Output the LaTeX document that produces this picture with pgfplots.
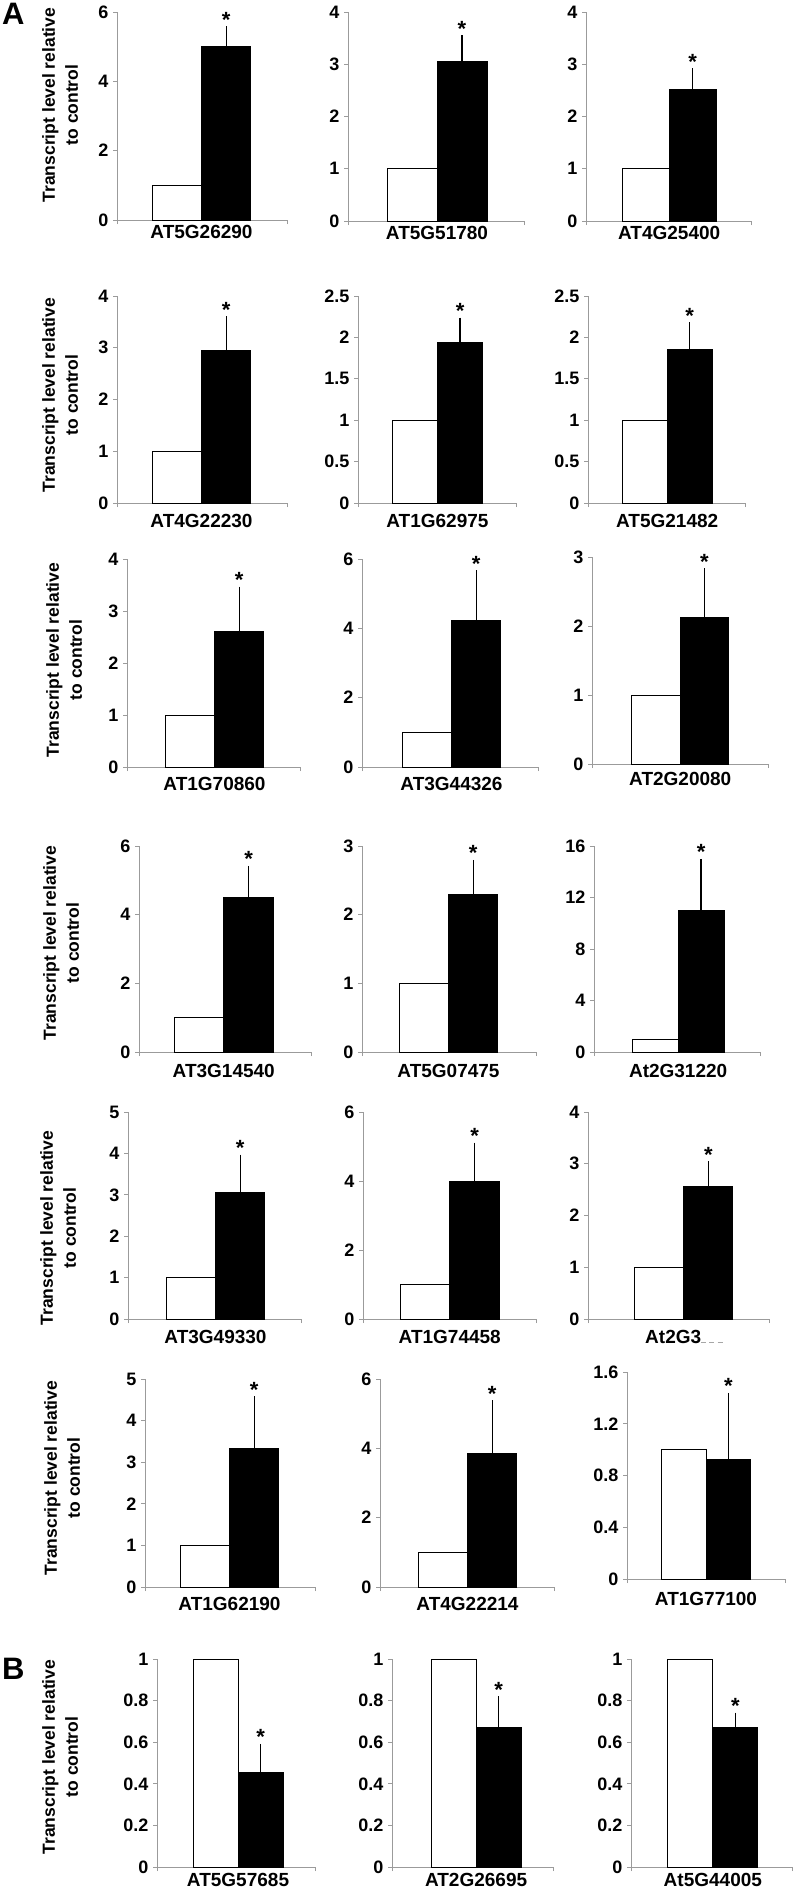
\documentclass[border=0pt]{standalone}
\usepackage{fontspec}
\setmainfont{Liberation Sans}
\usepackage{pgfplots}
\pgfplotsset{compat=1.18}
\definecolor{axgray}{RGB}{155,155,155}
\newcommand{\tk}{\fontsize{18}{20}\selectfont\bfseries}
\newcommand{\gn}{\fontsize{19}{21}\selectfont\bfseries}
\newcommand{\yl}{\fontsize{17.5}{23}\selectfont\bfseries}
\pgfplotsset{
  panel/.style={
    scale only axis, anchor=south west, clip=false,
    axis lines=left,
    axis line style={-, draw=axgray, line width=1pt},
    ymin=0,
    tick align=outside,
    major tick length=4pt,
    every tick/.style={draw=axgray, line width=1pt},
    yticklabel style={font=\tk, xshift=-1pt},
    xticklabel style={font=\gn},
    /pgf/number format/assume math mode=true,
    extra x tick style={major tick length=0pt},
  },
  P/.style n args={7}{at={(#1pt,-#2pt)}, width=#3pt, height=#4pt,
     xmin=#5, xmax=#6, xtick={#5,#6}, xticklabels={,}, extra x ticks={0.5}, extra x tick labels={#7}},
}
% white value, black value, error
\newcommand{\bars}[3]{%
  \addplot[ybar, bar width=1, bar shift=0pt, fill=white, draw=black, line width=1pt] coordinates {(0,#1)};
  \addplot[ybar, bar width=1, bar shift=0pt, fill=black, draw=black, line width=1pt,
    error bars/.cd, y dir=plus, y explicit,
    error bar style={line width=1.4pt, black},
    error mark options={line width=1.4pt, mark size=2.5pt, black}] coordinates {(1,#2) +- (0,#3)};
}
\newcommand{\sig}[1]{\node[anchor=base, yshift=1.5pt, inner sep=0pt, font=\fontsize{22}{22}\selectfont\bfseries] at (axis cs:1,#1) {*};}
\newcommand{\ylab}[2]{\node[rotate=90, align=center, font=\yl, inner sep=0pt] at (#1pt,-#2pt) {Transcript level relative\\to control};}
\begin{document}
\begin{tikzpicture}
\useasboundingbox (0,0) rectangle (796pt,-1896pt);
\node[anchor=north west, inner sep=0pt, font=\fontsize{31}{31}\selectfont\bfseries] at (2pt,-3pt) {A};
\node[anchor=north west, inner sep=0pt, font=\fontsize{31}{31}\selectfont\bfseries] at (2pt,-1658pt) {B};
\ylab{60}{105}
\ylab{60}{395}
\ylab{64}{660}
\ylab{61}{943}
\ylab{58}{1228}
\ylab{62}{1478}
\ylab{60}{1757}
% Row 1
\begin{axis}[panel, P={117}{220}{170}{208}{-1.21}{2.23}{AT5G26290}, ymax=6, ytick={0,2,4,6}, xticklabel style={yshift=-1.5pt}]
\bars{1}{5.0}{0.52}\sig{5.52}
\end{axis}
\begin{axis}[panel, P={348}{221}{176}{209}{-1.28}{2.24}{AT5G51780}, ymax=4, ytick={0,1,2,3,4}, xticklabel style={yshift=-1.5pt}]
\bars{1}{3.05}{0.46}\sig{3.51}
\end{axis}
\begin{axis}[panel, P={586}{221}{165}{209}{-1.27}{2.24}{AT4G25400}, ymax=4, ytick={0,1,2,3,4}, xticklabel style={yshift=-1.5pt}]
\bars{1}{2.51}{0.37}\sig{2.88}
\end{axis}
% Row 2
\begin{axis}[panel, P={117}{503}{170}{207}{-1.21}{2.23}{AT4G22230}, ymax=4, ytick={0,1,2,3,4}, xticklabel style={yshift=-8pt}]
\bars{1}{2.94}{0.62}\sig{3.56}
\end{axis}
\begin{axis}[panel, P={358}{503}{158}{207}{-1.25}{2.23}{AT1G62975}, ymax=2.5, ytick={0,0.5,1,1.5,2,2.5}, xticklabel style={yshift=-8pt}]
\bars{1}{1.94}{0.27}\sig{2.21}
\end{axis}
\begin{axis}[panel, P={588}{503}{157}{207}{-1.26}{2.23}{AT5G21482}, ymax=2.5, ytick={0,0.5,1,1.5,2,2.5}, xticklabel style={yshift=-8pt}]
\bars{1}{1.85}{0.30}\sig{2.15}
\end{axis}
% Row 3
\begin{axis}[panel, P={127}{767}{174}{208}{-1.27}{2.25}{AT1G70860}, ymax=4, ytick={0,1,2,3,4}, xticklabel style={yshift=-7pt}]
\bars{1}{2.60}{0.82}\sig{3.42}
\end{axis}
\begin{axis}[panel, P={362}{767}{176}{208}{-1.31}{2.25}{AT3G44326}, ymax=6, ytick={0,2,4,6}, xticklabel style={yshift=-7pt}]
\bars{1}{4.22}{1.38}\sig{5.60}
\end{axis}
\begin{axis}[panel, P={592}{764}{176}{207}{-1.32}{2.31}{AT2G20080}, ymax=3, ytick={0,1,2,3}, xticklabel style={yshift=-5pt}]
\bars{1}{2.13}{0.67}\sig{2.80}
\end{axis}
% Row 4
\begin{axis}[panel, P={139}{1052}{172}{206}{-1.21}{2.26}{AT3G14540}, ymax=6, ytick={0,2,4,6}, xticklabel style={yshift=-9pt}]
\bars{1}{4.49}{0.86}\sig{5.35}
\end{axis}
\begin{axis}[panel, P={362}{1052}{174}{206}{-1.25}{2.27}{AT5G07475}, ymax=3, ytick={0,1,2,3}, xticklabel style={yshift=-9pt}]
\bars{1}{2.30}{0.46}\sig{2.76}
\end{axis}
\begin{axis}[panel, P={594}{1052}{166}{206}{-1.33}{2.28}{At2G31220}, ymax=16, ytick={0,4,8,12,16}, xticklabel style={yshift=-9pt}]
\bars{1}{11.0}{3.8}\sig{14.8}
\end{axis}
% Row 5
\begin{axis}[panel, P={128}{1319}{174}{207}{-1.27}{2.25}{AT3G49330}, ymax=5, ytick={0,1,2,3,4,5}, xticklabel style={yshift=-8pt}]
\bars{1}{3.05}{0.86}\sig{3.91}
\end{axis}
\begin{axis}[panel, P={363}{1319}{173}{207}{-1.25}{2.24}{AT1G74458}, ymax=6, ytick={0,2,4,6}, xticklabel style={yshift=-8pt}]
\bars{1}{3.98}{1.06}\sig{5.04}
\end{axis}
\begin{axis}[panel, P={588}{1319}{181}{207}{-1.46}{2.24}{At2G3\textcolor{black!35}{\rule[1pt]{5pt}{1pt}\,\rule[1pt]{5pt}{1pt}\,\rule[1pt]{5pt}{1pt}}}, ymax=4, ytick={0,1,2,3,4}, xticklabel style={yshift=-8pt}]
\bars{1}{2.57}{0.43}\sig{3.00}
\end{axis}
% Row 6
\begin{axis}[panel, P={145}{1587}{170}{208}{-1.21}{2.23}{AT1G62190}, ymax=5, ytick={0,1,2,3,4,5}, xticklabel style={yshift=-7pt}]
\bars{1}{3.33}{1.19}\sig{4.52}
\end{axis}
\begin{axis}[panel, P={380}{1587}{174}{208}{-1.27}{2.25}{AT4G22214}, ymax=6, ytick={0,2,4,6}, xticklabel style={yshift=-7pt}]
\bars{1}{3.84}{1.48}\sig{5.32}
\end{axis}
\begin{axis}[panel, P={627}{1579}{158}{207}{-1.26}{2.26}{AT1G77100}, ymax=1.6, ytick={0,0.4,0.8,1.2,1.6}, xticklabel style={yshift=-10pt}]
\bars{1}{0.925}{0.495}\sig{1.42}
\end{axis}
% Row 7 (B)
\begin{axis}[panel, P={157}{1867}{158}{208}{-1.30}{2.21}{AT5G57685}, ymax=1, ytick={0,0.2,0.4,0.6,0.8,1}, xticklabel style={yshift=-3pt}]
\bars{1}{0.453}{0.127}\sig{0.58}
\end{axis}
\begin{axis}[panel, P={392}{1867}{161}{208}{-1.37}{2.21}{AT2G26695}, ymax=1, ytick={0,0.2,0.4,0.6,0.8,1}, xticklabel style={yshift=-3pt}]
\bars{1}{0.67}{0.14}\sig{0.81}
\end{axis}
\begin{axis}[panel, P={631}{1867}{161}{208}{-1.32}{2.26}{At5G44005}, ymax=1, ytick={0,0.2,0.4,0.6,0.8,1}, xticklabel style={yshift=-3pt}]
\bars{1}{0.67}{0.06}\sig{0.73}
\end{axis}
\end{tikzpicture}
\end{document}
